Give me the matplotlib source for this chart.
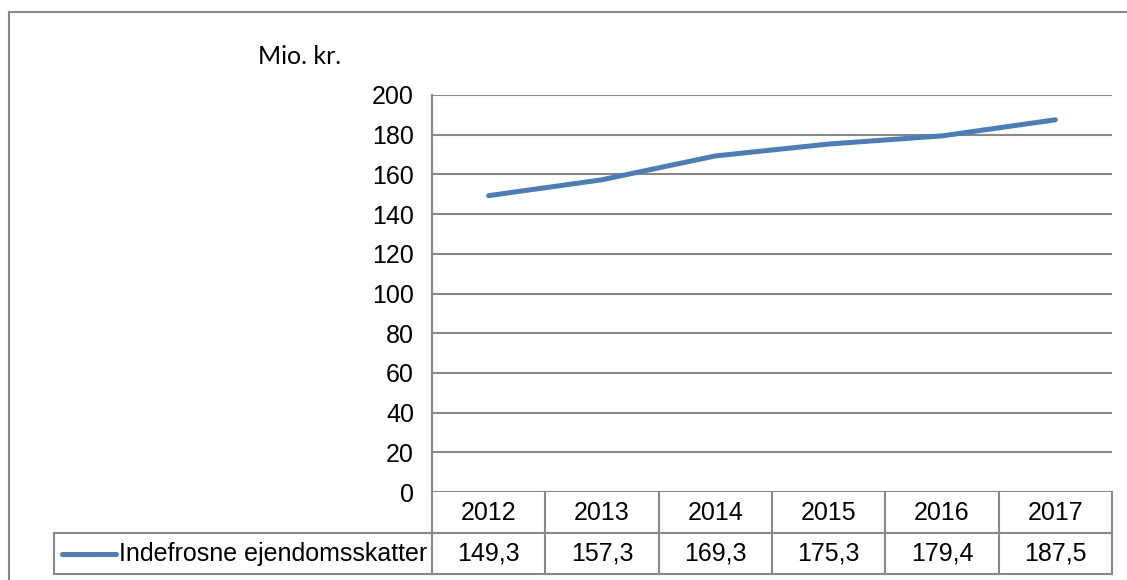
import matplotlib
matplotlib.use("Agg")
import matplotlib.pyplot as plt
from matplotlib.lines import Line2D
from matplotlib.transforms import blended_transform_factory

years = ["2012", "2013", "2014", "2015", "2016", "2017"]
values = [149.3, 157.3, 169.3, 175.3, 179.4, 187.5]
value_labels = ["149,3", "157,3", "169,3", "175,3", "179,4", "187,5"]
series_name = "Indefrosne ejendomsskatter"
y_ticks = [0, 20, 40, 60, 80, 100, 120, 140, 160, 180, 200]
unit_label = "Mio. kr."

W, H = 1127, 580
LINE_C = "#4A7EBB"
GRID_C = "#898989"
FONT = "Liberation Sans"
FS = 18

plt.rcParams["font.family"] = [FONT, "DejaVu Sans"]

fig = plt.figure(figsize=(W / 100, H / 100), dpi=100)

def fx(px):
    return px / W

def fy(py):
    return 1 - py / H

# plot area in pixels
L, R, T, B = 432, 1112, 95, 492
ax = fig.add_axes([fx(L), fy(B), fx(R) - fx(L), fy(T) - fy(B)])
ax.set_xlim(-0.5, len(years) - 0.5)
ax.set_ylim(0, 200)
ax.set_yticks(y_ticks)
ax.set_yticklabels([str(v) for v in y_ticks], fontsize=FS)
ax.tick_params(axis="y", length=0, pad=13)
ax.set_xticks([])
for s in ["top", "right", "bottom"]:
    ax.spines[s].set_visible(False)
ax.spines["left"].set_color(GRID_C)
ax.spines["left"].set_linewidth(1.5)
ax.yaxis.grid(True, color=GRID_C, linewidth=1.5)
ax.set_axisbelow(True)

x = list(range(len(years)))
ax.plot(x, values, color=LINE_C, linewidth=3.6, solid_capstyle="round",
        solid_joinstyle="round", zorder=3)

# table drawn below axes: x in data coords, y in figure coords
tr = blended_transform_factory(ax.transData, fig.transFigure)
row1_top, row1_bot, row2_bot = B, 533, 574
lw = 1.5
boundaries = [i - 0.5 for i in range(len(years) + 1)]
for b in boundaries:
    top = T if b == boundaries[0] else row1_top
    fig.add_artist(Line2D([b, b], [fy(top), fy(row2_bot)], transform=tr,
                          color=GRID_C, lw=lw))
fig.add_artist(Line2D([fx(54), fx(R)], [fy(row1_bot), fy(row1_bot)],
                      transform=fig.transFigure, color=GRID_C, lw=lw))
fig.add_artist(Line2D([fx(54), fx(R)], [fy(row2_bot), fy(row2_bot)],
                      transform=fig.transFigure, color=GRID_C, lw=lw))
fig.add_artist(Line2D([fx(54), fx(54)], [fy(row1_bot), fy(row2_bot)],
                      transform=fig.transFigure, color=GRID_C, lw=lw))

for i, (yr, vl) in enumerate(zip(years, value_labels)):
    fig.text(i, fy((row1_top + row1_bot) / 2), yr, transform=tr,
             ha="center", va="center", fontsize=FS)
    fig.text(i, fy((row1_bot + row2_bot) / 2), vl, transform=tr,
             ha="center", va="center", fontsize=FS)

# legend key in table
ym = (row1_bot + row2_bot) / 2
fig.add_artist(Line2D([fx(62), fx(116)], [fy(ym), fy(ym)],
                      transform=fig.transFigure, color=LINE_C, lw=3.6,
                      solid_capstyle="round"))
fig.text(fx(119), fy(ym), series_name, ha="left", va="center", fontsize=FS)

# unit label
fig.text(fx(258), fy(57), unit_label, ha="left", va="center", fontsize=18,
         family=["Lato", "Liberation Sans"])

# outer frame
fig.add_artist(Line2D([fx(9), fx(W + 5)], [fy(12), fy(12)],
                      transform=fig.transFigure, color=GRID_C, lw=1.5))
fig.add_artist(Line2D([fx(9), fx(9)], [fy(12), fy(H + 5)],
                      transform=fig.transFigure, color=GRID_C, lw=1.5))

fig.savefig("out.png", dpi=100, facecolor="white")
